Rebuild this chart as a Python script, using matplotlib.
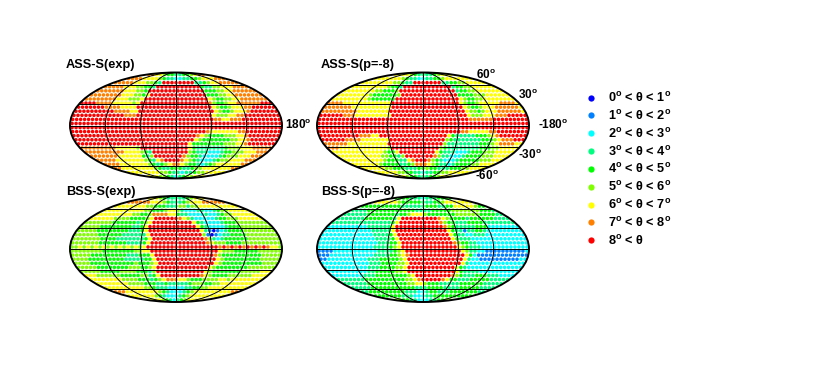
#!/usr/bin/env python
# four sky maps (mollweide) of theta classes, plus a legend of the classes
import numpy as np
import matplotlib
matplotlib.use('Agg')
import matplotlib.pyplot as plt
from matplotlib.lines import Line2D

plt.rcParams['font.family'] = ['Liberation Sans', 'DejaVu Sans']
plt.rcParams['mathtext.fontset'] = 'custom'
plt.rcParams['mathtext.rm'] = 'Liberation Sans:bold'

colors = ['#0000ff', '#0080ff', '#00ffff', '#00ff80', '#00ff00',
          '#80ff00', '#ffff00', '#ff8000', '#ff0000']
labels = [r'0$^{\mathrm{o}}$ < θ < 1$^{\mathrm{o}}$',
          r'1$^{\mathrm{o}}$ < θ < 2$^{\mathrm{o}}$',
          r'2$^{\mathrm{o}}$ < θ < 3$^{\mathrm{o}}$',
          r'3$^{\mathrm{o}}$ < θ < 4$^{\mathrm{o}}$',
          r'4$^{\mathrm{o}}$ < θ < 5$^{\mathrm{o}}$',
          r'5$^{\mathrm{o}}$ < θ < 6$^{\mathrm{o}}$',
          r'6$^{\mathrm{o}}$ < θ < 7$^{\mathrm{o}}$',
          r'7$^{\mathrm{o}}$ < θ < 8$^{\mathrm{o}}$',
          r'8$^{\mathrm{o}}$ < θ']

# class of each sample, north to south, west to east along each row ("7x4" = 7777)
ass_exp = [
    '7x2 6x2 5 4x2 3x2 4x2 5 6 7x2',
    '7x4 6x4 5 4 3x2 2x2 3x2 4x2 5 6x3 7x3',
    '7x5 6x3 5x2 4 3 8x8 3x2 4 5 6x2 7x5',
    '7x5 6x3 5x2 4x2 3 8x11 4 3x2 5x2 6x3 7x4',
    '7x7 6x3 5x2 4 8x14 4x3 5x2 6x2 7x6',
    '7x8 6x3 5x2 4 6 8x14 4x3 5x2 6x2 7x7',
    '7x8 6x3 5x3 6 8x16 6 5 4x2 5x2 6x2 7x7',
    '8x4 7x4 6x5 5 6 8x17 7 5 4x2 5 6x2 7x6 8x3',
    '8x7 7x4 6x4 8x19 6 5 4x2 5 6x3 7x2 8x6',
    '8x10 7x4 6x2 8x19 6 5 4x2 5 6x3 7 8x7',
    '8x13 7x3 8x19 6 5x3 6x2 7x2 8x9',
    '8x36 7x2 6x2 7x3 8x10',
    '8x53',
    '8x53',
    '8x34 7 6x7 7x2 8x9',
    '8x31 7 6 5 4x4 5x3 6x2 7 8x8',
    '8x30 6 5 4x7 5x2 6x2 7 8x7',
    '8x28 6 4x8 5x3 6x2 7 8x7',
    '7x9 6x5 5 8x12 6 4 3x7 4 5x3 6x3 7x5',
    '7x10 6x4 5 4 3 8x9 5 4 3x3 2x3 3 4x2 5x3 6x3 7x3',
    '7x7 6x6 4 3 5 8x7 7 5 4x2 3 2x4 3 4 5x3 6x3 7x3',
    '7x5 6x7 5 4 3 6 7 8x4 7 6 5 4 3 2x3 3 4 5x2 6x4 7x3',
    '7x4 6x7 5 4 3 4 5 6 7x2 6 5 4x2 3 2 3 4 5 6x4 6x2 7x2',
    '7x2 6x8 5 4 3x2 4 4 4 3x2 4 5x2 6x7 7x2',
    '6x8 5x2 4 3x2 2 3x2 4 5x2 6x5',
    '6x3 5x2 4 3 2 3 4 5x2 6x3',
]

ass_p8 = [
    '6x4 5 4 3x4 4 5 6x3',
    '6x7 5 4 3x2 2x2 3x2 4x2 5 6x7',
    '6x8 5x2 4 3x2 8x7 3x2 4x2 5x2 6x5',
    '6x9 5 4x2 3 8x12 3 4x2 5x2 6x6',
    '6x8 5x2 4x3 5 8x14 3 4x2 5x2 6x7',
    '6x8 5 4x6 5 8x14 4 4x3 5x3 6x6',
    '6x9 5 4x6 8x16 6 5 4x2 5x2 6x8',
    '7x4 6x12 8x17 6 5 4x2 5 6x5 7x4 6',
    '7x7 6x10 8x18 6 5 4x2 5 6x3 7x6 6',
    '7x9 6x8 8x19 6 5x2 4 5 6x3 7x6 6',
    '8x6 7x3 6x9 8x19 6 5x3 6x3 7x3 8x5',
    '8x38 7x6 8x9',
    '8x53',
    '8x53',
    '8x36 7x2 6x5 7x2 8x8',
    '8x10 7x3 6x2 8x17 6 4 3x5 4x3 5 6 7 8x7',
    '8x6 7x4 6x7 8x14 5 4 3x7 4x3 5 6 7x3 8x3',
    '7x6 6x10 8x14 5 3x8 4x3 5 6 7x4 6x2',
    '7x3 6x12 5 8x12 5 4 3x8 4x3 5x2 6x5',
    '6x13 5 4x2 6 8x9 6 4 3x3 2x3 3 4x3 5x3 6x5',
    '6x11 5x2 4x2 3 5 8x7 7 5 3x2 2x3 3 4x4 5x3 6x4',
    '6x10 5 4x3 3x2 6 7 8x3 7 5 4 3 2x3 3 4x5 5x3 6x3',
    '6x7 5 4x4 3x2 4 5 7x3 6 5 4 3x2 2 3 4x4 5x2 6x4',
    '6x6 5x2 4x3 3x3 4x2 5 4x2 3x3 4x3 5x2 6x4',
    '6x6 5x2 4x2 3x2 2 3x2 4x2 5x2 6x6',
    '6x3 5 4x2 3x3 4x2 5 6x3',
]

bss_exp = [
    '6x3 5 4 3x5 4 5 6x3',
    '7x6 6x3 5 4 3x3 4 5 6x3 7x6',
    '6x8 5x2 4x3 3x3 5x2 3 5x2 6x2 6x8',
    '6x10 5x2 4x3 5 6x2 5 3 2x3 3x2 2x2 3 4 5x2 6x5',
    '6x9 5x2 4x2 5 7x4 6x2 4 3x2 2x4 3 2x2 3 4 5x2 6x6',
    '6x6 5x4 4x4 5 6 8x6 7 6 5 3 2x5 3 4x2 5x3 6x6',
    '5x7 4x6 3 4 5 6 8x10 6 4 3 2x4 3 4x3 5x8',
    '5x5 4x8 3x2 4 6 8x12 6 4 3 2x4 3 4x3 5x8',
    '5x5 4x8 3x3 4 6 8x13 6 3 1 0 1 2 3 4x4 5x8',
    '5x6 4x6 3x6 6 8x13 5 1 0 1 2 3x2 4x4 5x8',
    '5x7 4x4 3x7 4 6 8x13 7 5 3 2 3 4x6 5x8',
    '5x7 4x7 3x4 4 6 8x14 7 6 5x3 4x4 5x10',
    '5 5 6 5 6 5 6 5 6 5 6 5 6 5 6 5 6 5 6 8x18 7 8 7 8 7 8 7 8 7 8 7 8 7 6x2 5',
    '5x8 4x8 5x2 6x2 8x17 6 5x3 4x6 5x6',
    '5x5 4x9 3x3 4x3 6 8x15 7 5 4x6 4x4 5x5',
    '5x4 4x9 3x5 4x2 6 8x15 6 5 4x9 5x5',
    '5x4 4x11 5 4x3 5 6 8x14 6 5 4x10 5x4',
    '5x5 4x8 5x3 4x2 5 6 8x13 6 5 4x8 5x7',
    '5x5 4x5 5x4 4x3 3 5 8x12 6 5 4x7 5x5 6x3',
    '6x3 5x6 4x5 5x2 3 4 6 8x10 7 6 5 4x4 5x6 6x4',
    '6x8 5x4 4x3 3 4 5 6 7x3 6x2 5 4x3 5x4 6x2 5 6x8',
    '6x8 5x4 4x3 3x2 4 3x5 4 5x3 4x2 5x2 6x9',
    '6x10 5x2 4 3x3 2x4 3x2 4x2 5x2 6x10',
    '7x3 6x8 5 4 3 2x3 3 4 5 6x9 7x2',
    '6x7 5 4 3 2x3 3 4 5 6x9',
    '6x4 5 4 3 2 3 4 5 6x5',
]

bss_p8 = [
    '4x4 3x3 2 3x3 4x4',
    '6x6 5 4x5 3x3 4x2 5 6x7',
    '4x10 3x6 4x3 3x2 4x2 6x5 5 4x2',
    '3x4 4x12 3x4 4x5 5x7 4x3 3',
    '3x6 4x7 3 4x2 5 6x3 5 4x5 4x2 5x6 4x4 3x2',
    '3x7 4x7 3 6 8x9 7 6 5 4x4 3 4x6 3x4',
    '3x15 4 6 8x10 7 5 4x2 3x3 4x4 3x8',
    '2x10 3x6 6 8x12 7 5 4 3x2 3x3 4x3 2x8',
    '2x12 3x5 6 8x13 6 4 3x2 1 3x2 4x2 3 2x9',
    '2x13 3x4 4 6 8x13 6 4 3x2 2x2 3x3 2x10',
    '2x14 3x4 4 6 8x13 6 4 3x3 2x14',
    '2x15 3x3 4x2 6 8x13 7 5 4x2 3x2 2x13',
    '2x14 3x4 4 5 6 8x14 6 5 4 3x3 2x12',
    '1x4 2x11 3x4 4 5 6 8x14 6 5 3x2 2x2 1x10 2',
    '1x3 2x11 3x4 4x2 5 6 7 8x14 6 4 2 1x13',
    '1x2 2x10 3x3 4x5 5 6 8x14 6 3 2x2 1x10 2x2',
    '2x12 3x3 4x4 5x2 6 8x13 6 3 2x14',
    '2x11 3x3 4x4 5x2 6 8x12 6 4 3 2x14',
    '2x10 3x2 4x5 5x2 6 8x12 6 4 3x4 2x10',
    '2x8 3x3 4x8 5 6 8x9 7 5 4 3x3 4x3 3x3 2x4',
    '3x7 4x10 5x2 6 7 8x5 7 6 4x2 3x3 4x5 3x5',
    '3x6 4x10 5x2 6x2 5 4x3 3x5 4x6 3x5',
    '3x5 4x11 3x3 4x4 3x4 4x5 3x4',
    '3x2 4x9 3x3 2x2 3 4x2 3x3 4x7 3x2',
    '4x7 3x3 2x3 3x2 4x10',
    '5x2 4x2 3x2 2x3 3x2 4x2 5x2',
]

panels = [('ASS-S(exp)', ass_exp), ('ASS-S(p=-8)', ass_p8),
          ('BSS-S(exp)', bss_exp), ('BSS-S(p=-8)', bss_p8)]

W, H = 830., 371.


def parse_row(row):
    vals = []
    for tok in row.split():
        if 'x' in tok:
            v, n = tok.split('x')
            vals += [int(v)] * int(n)
        else:
            vals.append(int(tok))
    return vals


def draw_map(ax, rows):
    lons, lats, cls = [], [], []
    nrow = len(rows)
    for r, row in enumerate(rows):
        vals = parse_row(row)
        # rows are evenly spaced on the page, so go back from page height to latitude
        th = np.arcsin(1 - (r + 0.5) * 2. / nrow)
        lat = np.arcsin((2 * th + np.sin(2 * th)) / np.pi)
        n = len(vals)
        for i, v in enumerate(vals):
            lons.append(-np.pi + 2 * np.pi * (i + 0.5) / n)
            lats.append(lat)
            cls.append(v)
    ax.scatter(lons, lats, c=[colors[c] for c in cls], s=6.5, linewidths=0, zorder=2)
    ax.set_longitude_grid(60)
    ax.set_latitude_grid(30)
    ax.set_longitude_grid_ends(90)
    ax.set_xticklabels([])
    ax.set_yticklabels([])
    ax.grid(True, color='k', lw=0.7, zorder=3)
    ax.set_axisbelow(False)
    for s in ax.spines.values():
        s.set_linewidth(1.4)
        s.set_zorder(4)


fig = plt.figure(figsize=(W / 100, H / 100), dpi=100)

# map frames in pixels: left, top
boxes = [(70, 72.5), (317, 72.5), (70, 196), (317, 196)]
title_pos = [(66, 65), (321, 65), (66, 192), (321, 192)]
for (title, rows), (x0, y0), (tx, ty) in zip(panels, boxes, title_pos):
    ax = fig.add_axes([x0 / W, 1 - (y0 + 106) / H, 212 / W, 106 / H], projection='mollweide')
    draw_map(ax, rows)
    fig.text(tx / W, 1 - ty / H, title, fontsize=9.2, fontweight='bold', va='center')

ticks = [(285, 125, '180'), (538, 125, '-180'), (476, 75, '60'), (518, 95, '30'),
         (518, 155, '-30'), (475, 176, '-60')]
for x, y, s in ticks:
    fig.text(x / W, 1 - y / H, s + r'$^{\mathrm{o}}$', fontsize=8.5, fontweight='bold', va='center')

handles = [Line2D([], [], ls='', marker='o', ms=4.5, mec='none', color=c) for c in colors]
fig.legend(handles, labels, loc='upper left', bbox_to_anchor=(583 / W, 1 - 91 / H),
           frameon=False, prop={'size': 9.2, 'weight': 'bold'},
           labelspacing=0.3, handletextpad=0.75, handlelength=1.2,
           borderpad=0, borderaxespad=0)

plt.savefig('out.png', dpi=100)
